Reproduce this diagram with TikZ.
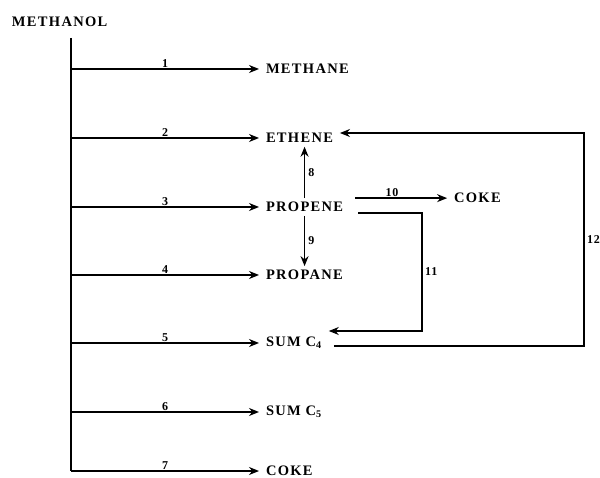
\documentclass[tikz,border=0pt]{standalone}
\usepackage{fontspec}
\setmainfont{Liberation Serif}
\usetikzlibrary{arrows.meta,positioning,calc}

\begin{document}
\begin{tikzpicture}[x=1pt,y=-1pt,
  species/.style={font=\fontsize{14.5}{16}\selectfont\bfseries\addfontfeature{LetterSpace=9},
    inner sep=2pt, outer xsep=5pt, outer ysep=2pt, anchor=west},
  flow/.style={-{Stealth[length=10pt,width=8pt]}, line width=1.4pt},
  rxn/.style={font=\fontsize{12}{13}\selectfont\bfseries\addfontfeature{LetterSpace=6}, inner sep=1pt}]
  \useasboundingbox (0,0) rectangle (600,478);

  \node[species, inner sep=0pt, outer sep=0pt] (methanol) at (12,22) {METHANOL};
  \coordinate (spine) at (71,38);

  % products formed directly from methanol
  \node[species] (methane) at (259,69) {METHANE};
  \node[species] (ethene) at (259,138) {ETHENE};
  \node[species] (propene) at (259,207) {PROPENE};
  \node[species] (propane) at (259,275) {PROPANE};
  \node[species] (sumfour) at (259,343) {SUM C\textsubscript{4}};
  \node[species] (sumfive) at (259,412) {SUM C\textsubscript{5}};
  \node[species] (cokeb) at (259,471) {COKE};
  \node[species] (cokea) [right=97pt of propene.north east] {COKE};

  \draw[line width=1.4pt] (spine) -- (spine |- cokeb);
  \foreach \spc/\k in {methane/1, ethene/2, propene/3, propane/4, sumfour/5, sumfive/6, cokeb/7}
    \draw[flow] (spine |- \spc) -- node[rxn, above] {\k} (\spc);

  % secondary reactions
  \draw[flow] (propene.north) -- node[rxn, right=2pt] {8} (propene.north |- ethene.south);
  \draw[flow] (propene.south) -- node[rxn, right=2pt] {9} (propene.south |- propane.north);
  \draw[flow] ([xshift=5pt]propene.north east) -- node[rxn, above, pos=0.4] {10} (cokea);

  \coordinate (bend11) at (422,272);
  \draw[flow] ([xshift=8pt,yshift=-6pt]propene.east) -| (bend11) |- ([yshift=12pt]sumfour.east);
  \node[rxn, right=2pt] (k11) at (bend11) {11};

  \coordinate (bend12) at (584,240);
  \draw[flow] ([xshift=5pt,yshift=-3pt]sumfour.east) -| (bend12) |- ([yshift=5pt]ethene.east);
  \node[rxn, right=2pt] (k12) at (bend12) {12};
\end{tikzpicture}
\end{document}
